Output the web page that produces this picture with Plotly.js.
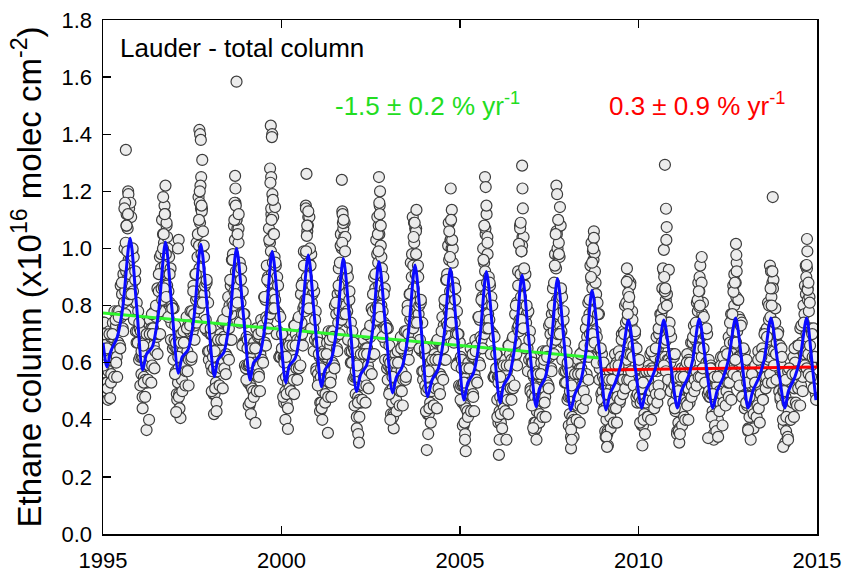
<!DOCTYPE html>
<html>
<head>
<meta charset="utf-8">
<script src="https://cdn.plot.ly/plotly-3.0.1.min.js"></script>
<style>
  html, body { margin: 0; padding: 0; background: #ffffff; }
  #chart { width: 846px; height: 573px; }
</style>
</head>
<body>
<div id="chart"></div>
<script>
// Observation days of year (sampling calendars)
const sampleDaysA = [2,8,14,19,25,31,37,43,49,56,63,70,77,85,93,101,109,117,125,133,141,149,157,165,173,181,188,195,202,209,215,221,227,232,237,242,247,252,257,262,267,272,277,282,288,294,300,307,314,321,329,337,345,353,360];
const sampleDaysB = [4,10,16,22,28,34,40,46,53,60,67,74,82,90,98,106,114,122,130,138,146,154,162,170,178,185,192,199,205,211,217,223,229,234,239,244,249,254,259,264,269,274,279,285,291,297,304,311,318,326,334,342,350,357,363];
const sampleDaysC = [6,17,29,40,46,52,66,81,97,113,129,135,145,161,177,193,206,219,230,240,250,260,270,280,291,303,316,330,344,356];

// Ethane total column (x1e16 molec cm-2), main series per year
const obs1995 = [.74,.63,.74,.61,.69,.53,.62,.53,.67,.57,.71,.61,.69,.56,.69,.74,.62,.78,.65,.73,.62,.78,.67,.78,.66,.87,.76,.84,.72,.91,.81,1.0,.85,1.02,.92,1.12,.89,1.07,1.2,.96,1.14,.91,1.11,.96,1.11,.87,.99,.85,.97,.81,.89,.71,.81,.71,.78];
const obs1996 = [.61,.72,.62,.71,.56,.62,.48,.62,.55,.67,.54,.65,.53,.70,.63,.59,.75,.62,.72,.59,.72,.66,.78,.64,.76,.69,.86,.70,.85,.79,.97,.78,.93,.86,1.10,.91,1.05,.87,1.02,1.15,.94,1.22,.98,1.08,.87,1.0,.85,.97,.81,.93,.74,.80,.65,.79,.66];
const obs1997 = [.68,.73,.57,.65,.49,.65,.53,.58,.49,.64,.56,.70,.54,.64,.71,.59,.67,.57,.76,.64,.73,.61,.71,.78,.61,.78,.71,.87,.77,.73,.91,.82,1.02,.83,.97,.85,1.18,1.01,.93,1.09,.90,1.14,.98,1.14,.88,.97,1.01,.84,.87,.75,.88,.71,.81,.61,.72];
const obs1998 = [.70,.59,.70,.57,.65,.49,.58,.49,.63,.53,.67,.57,.65,.52,.65,.70,.58,.74,.61,.69,.58,.74,.63,.74,.62,.83,.72,.80,.68,.87,.77,.96,.81,.98,.88,1.08,.85,1.03,1.16,.92,1.10,.87,1.07,.92,1.07,.83,.95,.81,.93,.77,.85,.67,.77,.67,.74];
const obs1999 = [.58,.69,.59,.68,.53,.59,.45,.59,.52,.64,.51,.62,.50,.67,.60,.56,.72,.59,.69,.56,.69,.63,.75,.61,.73,.66,.83,.67,.82,.76,.94,.75,.90,.83,1.07,.88,1.02,.84,.99,1.12,.91,1.19,.95,1.05,.84,.97,.82,.94,.78,.90,.71,.77,.62,.76,.63];
const obs2000 = [.65,.70,.54,.62,.46,.62,.50,.55,.46,.61,.53,.67,.51,.61,.68,.56,.64,.54,.73,.61,.70,.58,.68,.75,.58,.75,.68,.84,.74,.70,.88,.79,.99,.80,.94,.82,1.15,.98,.90,1.06,.87,1.11,.95,1.11,.85,.94,.98,.81,.84,.72,.85,.68,.78,.58,.69];
const obs2001 = [.67,.56,.67,.54,.62,.46,.55,.46,.60,.50,.64,.54,.62,.49,.62,.67,.55,.71,.58,.66,.55,.71,.60,.71,.59,.80,.69,.77,.65,.84,.74,.93,.78,.95,.85,1.05,.82,1.0,1.13,.89,1.07,.84,1.04,.89,1.04,.80,.92,.78,.90,.74,.82,.64,.74,.64,.71];
const obs2002 = [.54,.65,.55,.64,.49,.55,.41,.55,.48,.60,.47,.58,.46,.63,.56,.52,.68,.55,.65,.52,.65,.59,.71,.57,.69,.62,.79,.63,.78,.72,.90,.71,.86,.79,1.03,.84,.98,.80,.95,1.08,.87,1.15,.91,1.01,.80,.93,.78,.90,.74,.86,.67,.73,.58,.72,.59];
const obs2003 = [.61,.66,.50,.58,.42,.58,.46,.51,.42,.57,.49,.63,.47,.57,.64,.52,.60,.50,.69,.57,.66,.54,.64,.71,.54,.71,.64,.80,.70,.66,.84,.75,.95,.76,.90,.78,1.11,.94,.86,1.02,.83,1.07,.91,1.07,.81,.90,.94,.77,.80,.68,.81,.64,.74,.54,.65];
const obs2004 = [.63,.52,.63,.50,.58,.42,.51,.42,.56,.46,.60,.50,.58,.45,.58,.63,.51,.67,.54,.62,.51,.67,.56,.67,.55,.76,.65,.73,.61,.80,.70,.89,.74,.91,.81,1.01,.78,.96,1.09,.85,1.03,.80,1.0,.85,1.0,.76,.88,.74,.86,.70,.78,.60,.70,.60,.67];
const obs2005 = [.51,.62,.52,.61,.46,.52,.38,.52,.45,.57,.44,.55,.43,.60,.53,.49,.65,.52,.62,.49,.62,.56,.68,.54,.66,.59,.76,.60,.75,.69,.87,.68,.83,.76,1.0,.81,.95,.77,.92,1.05,.84,1.12,.88,.98,.77,.90,.75,.87,.71,.83,.64,.70,.55,.69,.56];
const obs2006 = [.58,.63,.47,.55,.39,.55,.43,.48,.39,.54,.46,.60,.44,.54,.61,.49,.57,.47,.66,.54,.63,.51,.61,.68,.51,.68,.61,.77,.67,.63,.81,.72,.92,.73,.87,.75,1.08,.91,.83,.99,.80,1.04,.88,1.04,.78,.87,.91,.74,.77,.65,.78,.61,.71,.51,.62];
const obs2007 = [.60,.49,.60,.47,.55,.39,.48,.39,.53,.43,.57,.47,.55,.42,.55,.60,.48,.64,.51,.59,.48,.64,.53,.64,.52,.73,.62,.70,.58,.77,.67,.86,.71,.88,.78,.98,.75,.93,1.06,.82,1.0,.77,.97,.82,.97,.73,.85,.71,.83,.67,.75,.57,.67,.57,.64];
const obs2008 = [.47,.58,.48,.57,.42,.48,.34,.48,.41,.53,.40,.51,.39,.56,.49,.45,.61,.48,.58,.45,.58,.52,.64,.50,.62,.55,.72,.56,.69,.63,.81,.62,.77,.70,.94,.75,.89,.71,.86,.99,.78,1.06,.82,.92,.71,.84,.69,.81,.65,.77,.58,.64,.49,.63,.50];
const obs2009 = [.55,.60,.44,.52,.36,.52,.40,.45,.36,.51,.43,.57,.41,.51,.58,.46,.54,.44,.63,.51,.60,.48,.57,.64,.46,.62,.54,.70,.59,.54,.71,.61,.80,.60,.74,.61,.93,.75,.67,.82,.63,.87,.71,.88,.63,.73,.78,.62,.66,.56,.70,.54,.65,.46,.58];
const obs2010 = [.59,.48,.59,.46,.54,.38,.47,.38,.52,.42,.56,.46,.54,.41,.54,.59,.47,.63,.50,.58,.47,.63,.51,.62,.49,.69,.57,.65,.52,.70,.59,.77,.61,.77,.67,.86,.62,.79,.92,.67,.85,.62,.82,.68,.84,.61,.74,.61,.74,.60,.69,.52,.63,.54,.62];
const obs2011 = [.52,.63,.43,.54,.49,.36,.51,.39,.49,.37,.54,.47,.58,.44,.55,.41,.58,.54,.46,.63,.51,.61,.46,.58,.67,.52,.67,.57,.73,.54,.68,.74,.57,.81,.65,.78,.88,.65,.85,.70,.94,.69,.81,.62,.77,.81,.65,.70,.57,.70,.60,.70,.52,.61,.48];
const obs2012 = [.48,.59,.49,.58,.43,.49,.35,.49,.42,.54,.41,.52,.40,.57,.50,.46,.62,.49,.59,.46,.59,.53,.64,.50,.61,.53,.69,.53,.67,.60,.77,.57,.71,.63,.87,.67,.80,.61,.76,.88,.67,.95,.71,.82,.62,.76,.62,.75,.60,.74,.56,.63,.49,.64,.52];
const obs2013 = [.56,.61,.45,.53,.37,.53,.41,.46,.37,.52,.44,.58,.42,.52,.59,.47,.55,.45,.64,.52,.61,.49,.58,.65,.47,.63,.55,.71,.60,.55,.72,.62,.81,.61,.75,.62,.94,.76,.68,.83,.64,.88,.72,.89,.64,.74,.79,.63,.67,.57,.71,.55,.66,.47,.59];
const obs2014 = [.65,.45,.56,.50,.38,.52,.40,.48,.36,.53,.46,.57,.43,.54,.40,.58,.53,.46,.62,.51,.60,.46,.57,.66,.51,.66,.56,.72,.52,.67,.73,.55,.80,.63,.77,.87,.64,.84,.70,.93,.69,.82,.63,.78,.83,.66,.72,.59,.71,.62,.72,.54,.62,.49,.53];

// Second observing programme (sampleDaysC), per year
const alt1995 = [.59,.70,.50,.65,.51,.47,.70,.53,.70,.55,.75,.60,.55,.76,.65,.88,.71,.94,.77,1.08,.82,1.19,.84,1.16,.84,1.0,.75,.92,.67,.67];
const alt1996 = [.74,.52,.64,.44,.66,.53,.48,.70,.54,.70,.53,.77,.70,.58,.80,.63,.91,.70,.98,.82,1.18,.86,1.12,.83,1.04,.76,.91,.68,.79,.61];
const alt1997 = [.56,.67,.47,.62,.48,.44,.67,.50,.67,.52,.72,.57,.52,.73,.62,.85,.68,.91,.74,1.05,.79,1.16,.81,1.13,.81,.97,.72,.89,.64,.64];
const alt1998 = [.72,.50,.62,.42,.64,.51,.46,.68,.52,.68,.51,.75,.68,.56,.78,.61,.89,.68,.96,.80,1.16,.84,1.10,.81,1.02,.74,.89,.66,.77,.59];
const alt1999 = [.54,.65,.45,.60,.46,.42,.65,.48,.65,.50,.70,.55,.50,.71,.60,.83,.66,.89,.72,1.03,.77,1.14,.79,1.11,.79,.95,.70,.87,.62,.62];
const alt2000 = [.70,.48,.60,.40,.62,.49,.44,.66,.50,.66,.49,.73,.66,.54,.76,.59,.87,.66,.94,.78,1.14,.82,1.08,.79,1.0,.72,.87,.64,.75,.57];
const alt2001 = [.52,.63,.43,.58,.44,.40,.63,.46,.63,.48,.68,.53,.48,.69,.58,.81,.64,.87,.70,1.01,.75,1.12,.77,1.09,.77,.93,.68,.85,.60,.60];
const alt2002 = [.67,.45,.57,.37,.59,.46,.41,.63,.47,.63,.46,.70,.63,.51,.73,.56,.84,.63,.91,.75,1.11,.79,1.05,.76,.97,.69,.84,.61,.72,.54];
const alt2003 = [.49,.60,.40,.55,.41,.37,.60,.43,.60,.45,.65,.50,.45,.66,.55,.78,.61,.84,.67,.98,.72,1.09,.74,1.06,.74,.90,.65,.82,.57,.57];
const alt2004 = [.65,.43,.55,.35,.57,.44,.39,.61,.45,.61,.44,.68,.61,.49,.71,.54,.82,.61,.89,.73,1.09,.77,1.03,.74,.95,.67,.82,.59,.70,.52];
const alt2005 = [.47,.58,.38,.53,.39,.35,.58,.41,.58,.43,.63,.48,.43,.64,.53,.76,.59,.82,.65,.96,.70,1.07,.72,1.04,.72,.88,.63,.80,.55,.55];
const alt2006 = [.63,.41,.53,.33,.55,.42,.37,.59,.43,.59,.42,.66,.59,.47,.69,.52,.80,.59,.87,.71,1.07,.75,1.01,.72,.93,.65,.80,.57,.68,.50];
const alt2007 = [.45,.56,.36,.51,.37,.33,.56,.39,.56,.41,.61,.46,.41,.62,.51,.74,.57,.80,.63,.94,.68,1.05,.70,1.02,.70,.86,.61,.78,.53,.53];
const alt2008 = [.60,.38,.50,.30,.52,.39,.34,.56,.40,.56,.39,.63,.56,.44,.66,.47,.75,.54,.82,.66,1.02,.70,.96,.67,.88,.60,.77,.54,.65,.47];
const alt2009 = [.43,.54,.34,.49,.35,.31,.54,.37,.54,.39,.59,.44,.39,.59,.47,.68,.49,.70,.51,.81,.54,.89,.54,.87,.57,.75,.52,.71,.48,.49];
const alt2010 = [.61,.39,.51,.31,.53,.40,.35,.57,.41,.57,.40,.64,.57,.44,.65,.46,.72,.49,.75,.58,.93,.59,.85,.57,.80,.54,.71,.50,.63,.46];
const alt2011 = [.44,.55,.35,.50,.36,.32,.55,.38,.55,.40,.60,.45,.40,.60,.48,.69,.50,.71,.52,.82,.55,.90,.55,.88,.58,.76,.53,.72,.49,.50];
const alt2012 = [.58,.41,.49,.33,.55,.38,.36,.55,.43,.59,.38,.62,.59,.45,.63,.48,.74,.47,.77,.56,.91,.61,.83,.55,.82,.52,.73,.48,.65,.44];
const alt2013 = [.46,.53,.36,.48,.37,.33,.56,.37,.53,.41,.61,.44,.39,.62,.47,.70,.51,.69,.53,.80,.56,.92,.53,.86,.59,.74,.54,.70,.50,.48];
const alt2014 = [.62,.40,.50,.32,.54,.41,.34,.58,.40,.56,.41,.65,.56,.45,.66,.45,.73,.50,.74,.59,.94,.58,.86,.56,.81,.55,.70,.51,.62,.47];

// Individual high and low measurements
const extraYear = [1995.64,1995.62,1995.60,1995.66,1995.70,1995.68,1995.20,1996.78,1996.70,1996.73,1996.76,1996.68,1996.22,1996.29,1997.12,1997.10,1997.70,1997.72,1997.74,1997.78,1997.75,1997.73,1997.71,1997.69,1997.76,1997.80,1997.17,1997.05,1998.70,1998.71,1998.74,1998.68,1998.72,1998.77,1998.80,1998.18,1999.70,1999.74,1999.73,1999.68,1999.71,1999.69,1999.82,1999.72,1999.76,1999.79,1999.27,2000.18,2000.70,2000.71,2000.72,2000.75,2000.69,2001.69,2001.72,2001.70,2001.74,2001.78,2001.30,2002.15,2002.17,2002.73,2002.76,2002.74,2002.75,2002.70,2002.78,2002.72,2003.05,2003.78,2003.70,2003.73,2003.77,2004.07,2004.74,2004.77,2004.78,2004.70,2004.75,2004.72,2005.14,2005.16,2005.70,2005.72,2005.68,2005.74,2005.77,2006.09,2006.30,2006.74,2006.75,2006.65,2006.70,2006.76,2006.72,2007.05,2007.70,2007.72,2007.80,2007.82,2007.68,2007.75,2007.77,2008.11,2008.13,2008.75,2008.77,2008.70,2008.73,2008.67,2009.10,2009.12,2009.67,2009.71,2009.72,2009.70,2009.74,2010.71,2010.74,2010.77,2010.79,2010.78,2010.85,2010.72,2010.75,2011.16,2011.77,2011.70,2011.69,2011.72,2011.95,2012.23,2012.73,2012.74,2012.66,2012.70,2012.75,2013.07,2013.76,2013.70,2013.73,2013.75,2014.05,2014.19,2014.72,2014.73,2014.71,2014.74,2014.70,2014.76];
const extraVal  = [1.345,1.16,1.14,1.08,1.12,.99,.476,1.09,1.05,1.12,.98,1.0,.364,.40,1.03,1.0,1.415,1.40,1.38,1.31,1.25,1.22,1.20,1.10,1.15,1.06,.406,.427,1.254,1.21,1.584,1.10,1.15,1.05,1.12,.43,1.43,1.40,1.39,1.28,1.25,1.23,1.145,1.10,1.17,1.05,.389,.368,1.261,1.044,1.08,1.13,.99,1.24,1.089,1.02,1.10,.99,.354,.35,.32,1.25,1.20,1.16,1.12,1.05,1.08,.99,.40,1.135,1.04,1.09,.98,.294,1.21,1.135,1.03,1.06,1.10,.97,.33,.29,1.25,1.215,1.08,1.15,1.02,.277,.33,1.29,1.21,1.016,1.09,1.14,.99,.371,1.22,1.19,1.145,1.08,1.05,1.10,.98,.365,.33,1.037,.984,.95,1.00,.90,.34,.305,.883,.844,.80,.77,.83,.995,1.293,1.139,1.075,1.03,.925,.90,.86,.35,.97,.795,.85,.80,.336,.34,1.016,.977,.848,.88,.92,.364,1.18,.86,.80,.92,.305,.33,1.033,.99,.942,.855,.90,.88];

// Seasonal fit: knots (decimal year, column) at troughs, shoulders and maxima
const fitYear = [1995.00,1995.11,1995.22,1995.40,1995.55,1995.76,1995.94,
  1996.11,1996.22,1996.38,1996.55,1996.75,1996.93,
  1997.11,1997.22,1997.38,1997.55,1997.74,1997.93,
  1998.12,1998.22,1998.38,1998.55,1998.74,1998.93,
  1999.12,1999.22,1999.38,1999.55,1999.74,1999.93,
  2000.12,2000.22,2000.38,2000.55,2000.75,2000.93,
  2001.12,2001.22,2001.38,2001.55,2001.73,2001.92,
  2002.10,2002.22,2002.38,2002.55,2002.73,2002.92,
  2003.11,2003.22,2003.38,2003.55,2003.74,2003.92,
  2004.09,2004.22,2004.38,2004.55,2004.73,2004.92,
  2005.11,2005.22,2005.38,2005.55,2005.74,2005.93,
  2006.12,2006.22,2006.38,2006.55,2006.74,2006.93,
  2007.13,2007.23,2007.38,2007.55,2007.73,2007.92,
  2008.10,2008.22,2008.38,2008.53,2008.70,2008.90,
  2009.09,2009.20,2009.35,2009.52,2009.72,2009.90,
  2010.09,2010.20,2010.37,2010.52,2010.71,2010.90,
  2011.09,2011.20,2011.39,2011.52,2011.70,2011.89,
  2012.08,2012.20,2012.38,2012.52,2012.72,2012.90,
  2013.07,2013.20,2013.38,2013.52,2013.71,2013.90,
  2014.10,2014.20,2014.38,2014.52,2014.71,2014.86,2014.97];
const fitVal = [.67,.585,.64,.69,.79,1.036,.80,
  .574,.63,.655,.77,1.023,.79,
  .563,.62,.645,.76,1.015,.78,
  .551,.61,.635,.75,1.001,.77,
  .539,.60,.625,.74,.989,.76,
  .529,.59,.615,.73,.977,.75,
  .516,.575,.605,.72,.965,.735,
  .499,.56,.59,.71,.954,.72,
  .494,.55,.585,.70,.942,.71,
  .481,.54,.575,.69,.930,.70,
  .469,.53,.565,.68,.919,.69,
  .459,.52,.555,.67,.907,.68,
  .446,.51,.545,.66,.895,.665,
  .434,.49,.535,.64,.854,.645,
  .434,.49,.53,.60,.749,.59,
  .441,.50,.545,.60,.749,.595,
  .441,.50,.55,.61,.753,.595,
  .441,.50,.55,.61,.756,.60,
  .441,.50,.55,.61,.756,.60,
  .441,.50,.55,.61,.756,.60,.469];

// Linear trends for the two periods
const trendEarlyYear = [1995.0, 2008.9];
const trendEarlyVal  = [0.774, 0.616];
const trendLateYear  = [2008.95, 2015.0];
const trendLateVal   = [0.574, 0.585];

const tickYears = [1995, 2000, 2005, 2010, 2015];

const yearTable = [
  [1995, sampleDaysA, obs1995, alt1995], [1996, sampleDaysB, obs1996, alt1996], [1997, sampleDaysA, obs1997, alt1997],
  [1998, sampleDaysB, obs1998, alt1998], [1999, sampleDaysA, obs1999, alt1999], [2000, sampleDaysB, obs2000, alt2000],
  [2001, sampleDaysA, obs2001, alt2001], [2002, sampleDaysB, obs2002, alt2002], [2003, sampleDaysA, obs2003, alt2003],
  [2004, sampleDaysB, obs2004, alt2004], [2005, sampleDaysA, obs2005, alt2005], [2006, sampleDaysB, obs2006, alt2006],
  [2007, sampleDaysA, obs2007, alt2007], [2008, sampleDaysB, obs2008, alt2008], [2009, sampleDaysA, obs2009, alt2009],
  [2010, sampleDaysB, obs2010, alt2010], [2011, sampleDaysA, obs2011, alt2011], [2012, sampleDaysB, obs2012, alt2012],
  [2013, sampleDaysB, obs2013, alt2013], [2014, sampleDaysA, obs2014, alt2014]
];

const obsX = [], obsY = [];
yearTable.forEach(([yr, days, vals, alt]) => {
  vals.forEach((v, i) => { obsX.push(yr + days[i] / 365.25); obsY.push(v); });
  alt.forEach((v, i) => { obsX.push(yr + sampleDaysC[i] / 365.25); obsY.push(v); });
});
extraYear.forEach((t, i) => { obsX.push(t); obsY.push(extraVal[i]); });

const FONT = 'Liberation Sans, Arial, sans-serif';

const traces = [
  {
    x: obsX, y: obsY, type: 'scatter', mode: 'markers',
    marker: { size: 11, color: '#ececec', line: { color: '#3c3c3c', width: 1.2 } },
    hoverinfo: 'skip'
  },
  {
    x: trendEarlyYear, y: trendEarlyVal, type: 'scatter', mode: 'lines',
    line: { color: '#2ef52e', width: 3 }, hoverinfo: 'skip'
  },
  {
    x: trendLateYear, y: trendLateVal, type: 'scatter', mode: 'lines',
    line: { color: '#ff0000', width: 3 }, hoverinfo: 'skip'
  },
  {
    x: fitYear, y: fitVal, type: 'scatter', mode: 'lines',
    line: { color: '#0a0aff', width: 3, shape: 'spline', smoothing: 0.8 }, hoverinfo: 'skip'
  }
];

const layout = {
  width: 846, height: 573,
  margin: { l: 103, r: 29, t: 20, b: 39 },
  paper_bgcolor: '#ffffff', plot_bgcolor: '#ffffff',
  showlegend: false,
  font: { family: FONT, color: '#000000' },
  xaxis: {
    range: [1995, 2015], tickvals: tickYears, ticktext: tickYears.map(String),
    ticks: 'inside', ticklen: 8, tickwidth: 1.3, tickcolor: '#000000',
    showline: true, linecolor: '#000000', linewidth: 1.5, mirror: 'ticks',
    showgrid: false, zeroline: false,
    tickfont: { family: FONT, size: 22, color: '#000000' },
    ticklabelstandoff: 6
  },
  yaxis: {
    range: [0, 1.8], tickvals: [0, 0.2, 0.4, 0.6, 0.8, 1.0, 1.2, 1.4, 1.6, 1.8], tickformat: '.1f',
    ticks: 'inside', ticklen: 8, tickwidth: 1.3, tickcolor: '#000000',
    showline: true, linecolor: '#000000', linewidth: 1.5, mirror: true,
    showgrid: false, zeroline: false,
    tickfont: { family: FONT, size: 22, color: '#000000' },
    ticklabelstandoff: 5,
    title: {
      text: 'Ethane column (x10<sup>16</sup> molec cm<sup>-2</sup>)',
      font: { family: FONT, size: 33, color: '#000000' },
      standoff: 10
    }
  },
  annotations: [
    { xref: 'paper', yref: 'paper', x: 0.021, y: 0.945, xanchor: 'left', yanchor: 'middle',
      text: 'Lauder - total column', showarrow: false,
      font: { family: FONT, size: 26, color: '#000000' } },
    { xref: 'paper', yref: 'paper', x: 0.322, y: 0.835, xanchor: 'left', yanchor: 'middle',
      text: '-1.5 ± 0.2 % yr<sup>-1</sup>', showarrow: false,
      font: { family: FONT, size: 26, color: '#22dd22' } },
    { xref: 'paper', yref: 'paper', x: 0.706, y: 0.835, xanchor: 'left', yanchor: 'middle',
      text: '0.3 ± 0.9 % yr<sup>-1</sup>', showarrow: false,
      font: { family: FONT, size: 26, color: '#ff0000' } }
  ]
};

Plotly.newPlot('chart', traces, layout, { staticPlot: true, displayModeBar: false });
</script>
</body>
</html>
